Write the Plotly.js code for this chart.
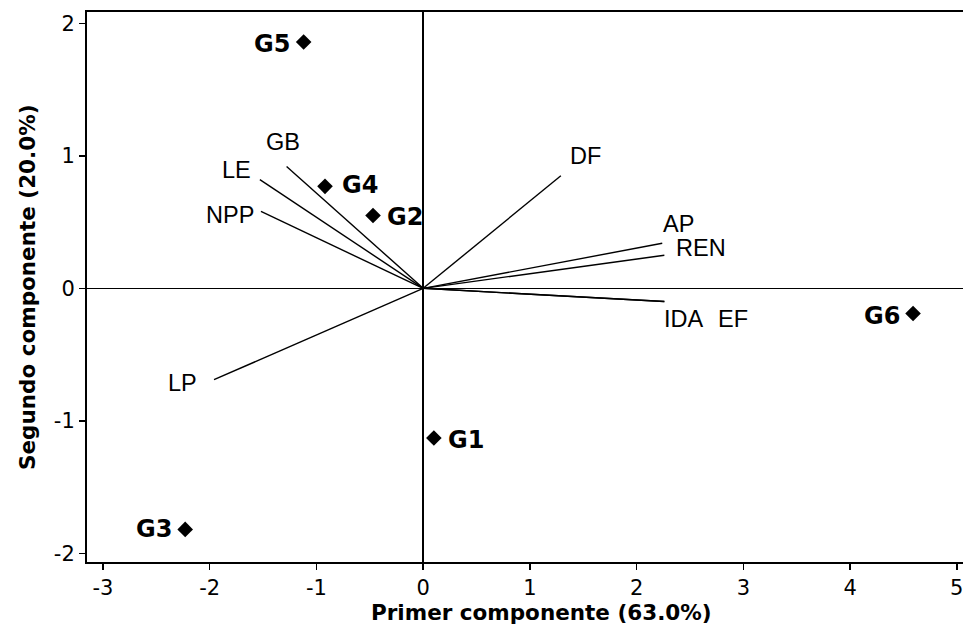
<!DOCTYPE html>
<html>
<head>
<meta charset="utf-8">
<script src="https://cdn.plot.ly/plotly-3.0.1.min.js"></script>
<style>html,body{margin:0;padding:0;background:#fff;overflow:hidden}#chart{width:963px;height:630px}</style>
</head>
<body>
<div id="chart"></div>
<script>
// Genotype scores
const genotypes = ["G1","G2","G3","G4","G5","G6"];
const pc1Scores = [0.10, -0.47, -2.23, -0.92, -1.12, 4.59];
const pc2Scores = [-1.13, 0.55, -1.82, 0.77, 1.86, -0.19];

// Variable loadings (vector endpoints)
const variables = ["GB","LE","NPP","LP","DF","AP","REN","IDA","EF"];
const pc1Load = [-1.28, -1.53, -1.52, -1.96, 1.29, 2.24, 2.26, 2.26, 2.26];
const pc2Load = [0.92, 0.82, 0.58, -0.69, 0.85, 0.34, 0.25, -0.10, -0.10];

// Axis ticks
const xTicks = [-3,-2,-1,0,1,2,3,4,5];
const yTicks = [-2,-1,0,1,2];

// Label styling offsets (pixels)
const varLabelStyle = [
  {xanchor:"center", xshift:-4, yshift:24},
  {xanchor:"right", xshift:-7, yshift:10},
  {xanchor:"right", xshift:-5, yshift:-4},
  {xanchor:"right", xshift:-15, yshift:-3},
  {xanchor:"left", xshift:7, yshift:20},
  {xanchor:"left", xshift:-1, yshift:19},
  {xanchor:"left", xshift:10, yshift:7},
  {xanchor:"left", xshift:-2, yshift:-17},
  {xanchor:"left", xshift:52, yshift:-17}
];
const genoLabelStyle = [
  {xanchor:"left", xshift:12, yshift:-2},
  {xanchor:"left", xshift:12, yshift:-2},
  {xanchor:"right", xshift:-11, yshift:0},
  {xanchor:"left", xshift:15, yshift:1},
  {xanchor:"right", xshift:-12, yshift:-2},
  {xanchor:"right", xshift:-11, yshift:-3}
];

const vx = [], vy = [];
variables.forEach((v,i)=>{ vx.push(0, pc1Load[i], null); vy.push(0, pc2Load[i], null); });

const traces = [
  {type:"scatter", mode:"lines", x:vx, y:vy, line:{color:"#000", width:1.4}, hoverinfo:"skip", showlegend:false},
  {type:"scatter", mode:"markers", x:pc1Scores, y:pc2Scores, marker:{symbol:"diamond", size:12, color:"#000"}, showlegend:false}
];

const annotations = [];
variables.forEach((v,i)=>{
  annotations.push({x:pc1Load[i], y:pc2Load[i], xref:"x", yref:"y", text:v, showarrow:false,
    xanchor:varLabelStyle[i].xanchor, yanchor:"middle", xshift:varLabelStyle[i].xshift, yshift:varLabelStyle[i].yshift,
    font:{family:"Liberation Sans, Arial, sans-serif", size:23.5, color:"#000"}});
});
genotypes.forEach((g,i)=>{
  annotations.push({x:pc1Scores[i], y:pc2Scores[i], xref:"x", yref:"y", text:"<b>"+g+"</b>", showarrow:false,
    xanchor:genoLabelStyle[i].xanchor, yanchor:"middle", xshift:genoLabelStyle[i].xshift, yshift:genoLabelStyle[i].yshift,
    font:{family:"DejaVu Sans, Verdana, sans-serif", size:24, color:"#000"}});
});
annotations.push({xref:"paper", yref:"paper", x:0.519, y:-0.0927, xanchor:"center", yanchor:"middle", showarrow:false,
  text:"<b>Primer componente (63.0%)</b>", font:{family:"DejaVu Sans, Verdana, sans-serif", size:21.5, color:"#000"}});
annotations.push({xref:"paper", yref:"paper", x:-0.0685, y:0.5, xanchor:"center", yanchor:"middle", showarrow:false, textangle:-90,
  text:"<b>Segundo componente (20.0%)</b>", font:{family:"DejaVu Sans, Verdana, sans-serif", size:21.5, color:"#000"}});

const layout = {
  width:963, height:630,
  margin:{l:87, r:0, t:12, b:68},
  paper_bgcolor:"#fff", plot_bgcolor:"#fff",
  showlegend:false,
  xaxis:{range:[-3.15, 5.058], tickvals:xTicks, ticktext:xTicks.map(String), ticks:"outside", ticklen:6, tickwidth:1.5, tickcolor:"#000",
    ticklabeloverflow:"allow",
    showline:true, linecolor:"#000", linewidth:2, mirror:true, showgrid:false, zeroline:true, zerolinecolor:"#000", zerolinewidth:1.5,
    tickfont:{family:"DejaVu Sans, Verdana, sans-serif", size:21, color:"#000"}},
  yaxis:{range:[-2.066, 2.086], tickvals:yTicks, ticktext:yTicks.map(String), ticks:"outside", ticklen:6, tickwidth:1.5, tickcolor:"#000",
    showline:true, linecolor:"#000", linewidth:2, mirror:false, showgrid:false, zeroline:true, zerolinecolor:"#000", zerolinewidth:1.5,
    tickfont:{family:"DejaVu Sans, Verdana, sans-serif", size:21, color:"#000"}},
  annotations:annotations
};

Plotly.newPlot("chart", traces, layout, {displayModeBar:false, staticPlot:true});
</script>
</body>
</html>
